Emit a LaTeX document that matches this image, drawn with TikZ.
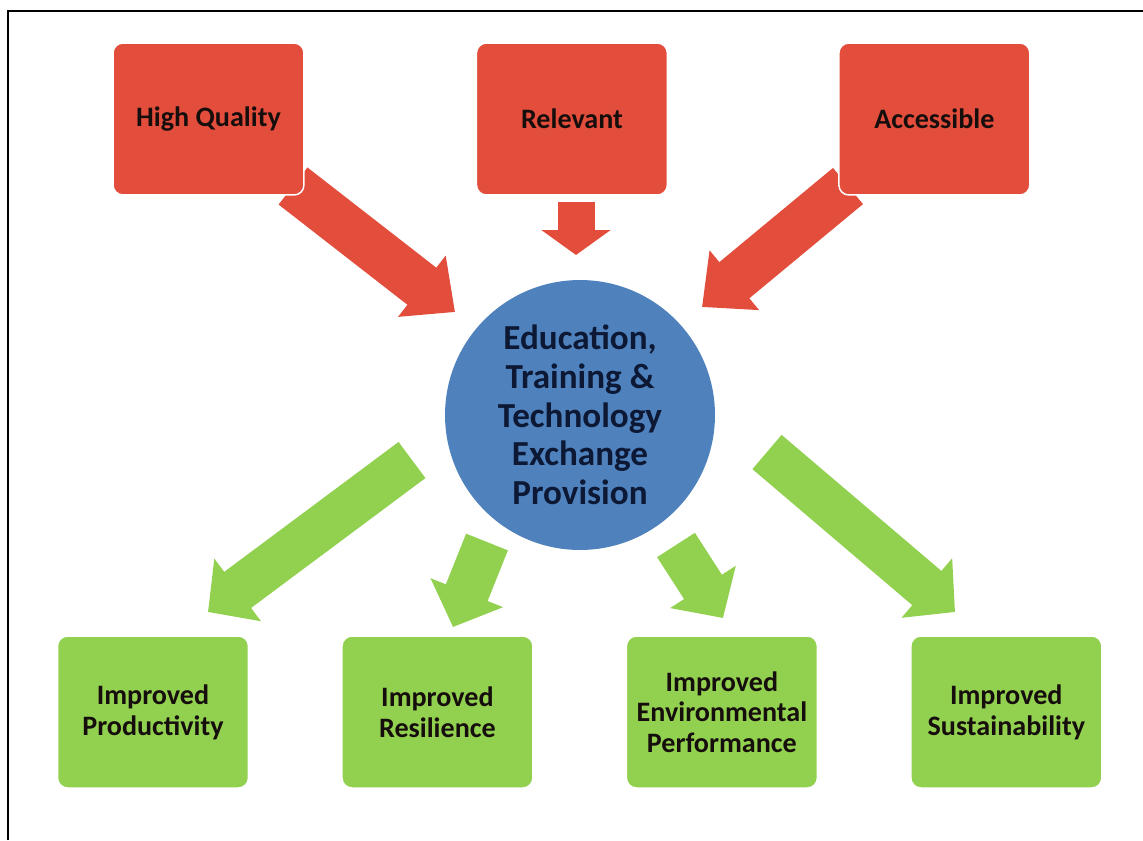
\documentclass[tikz,border=0pt]{standalone}
\usepackage{fontspec}
\setmainfont{Carlito}
\usetikzlibrary{arrows.meta}
\usetikzlibrary{positioning}
\definecolor{box_red}{RGB}{226,77,60}
\definecolor{box_green}{RGB}{146,208,80}
\definecolor{hub_blue}{RGB}{79,129,189}
\definecolor{hub_text}{RGB}{12,24,52}
\definecolor{box_text}{RGB}{22,14,12}
\tikzstyle{red_box} = [
    rectangle, 
    rounded corners=0.2cm, 
    font=\bfseries\fontsize{16}{17.5}\selectfont, 
    text=box_text, 
    draw=white, 
    line width=0.03cm, 
    fill=box_red, 
    align=center, 
    minimum width=3.82cm, 
    minimum height=3.04cm
]
\tikzstyle{green_box} = [
    red_box, 
    fill=box_green
]
\tikzstyle{hub_node} = [
    circle, 
    font=\bfseries\fontsize{20}{22}\selectfont, 
    text=hub_text, 
    fill=hub_blue, 
    align=center, 
    inner sep=0pt, % text fits well inside
    minimum size=5.4cm
]
\tikzstyle{red_arrow} = [
    draw=box_red, 
    line width=0.94cm, 
    -{Triangle[length=0.84cm, width=1.5cm]}
]
\tikzstyle{green_arrow} = [
    draw=box_green, 
    line width=0.9cm, 
    -{Triangle[length=0.74cm, width=1.52cm]}
]

\begin{document}
\begin{tikzpicture}[x=0.02cm, y=-0.02cm]
\useasboundingbox (0,0) rectangle (1143,840);
\draw[line width=0.04cm] (8,840) -- (8,11) -- (1143,11);

% arrow ends
\coordinate (hq_tail) at (293,186);
\coordinate (hq_tip) at (455,312);
\coordinate (rel_tail) at (576,202);
\coordinate (rel_tip) at (576,255);
\coordinate (acc_tail) at (848,186);
\coordinate (acc_tip) at (702,307);
\coordinate (prod_tail) at (412,460);
\coordinate (prod_tip) at (208,612);
\coordinate (res_tail) at (487,542);
\coordinate (res_tip) at (453,627);
\coordinate (env_tail) at (676,545);
\coordinate (env_tip) at (723,618);
\coordinate (sus_tail) at (767,452);
\coordinate (sus_tip) at (955,612);

\draw [red_arrow] (hq_tail) -- (hq_tip);
\draw [red_arrow, line width=0.74cm, -{Triangle[length=0.5cm, width=1.36cm]}] (rel_tail) -- (rel_tip);
\draw [red_arrow] (acc_tail) -- (acc_tip);
\draw [green_arrow] (prod_tail) -- (prod_tip);
\draw [green_arrow] (res_tail) -- (res_tip);
\draw [green_arrow] (env_tail) -- (env_tip);
\draw [green_arrow] (sus_tail) -- (sus_tip);

\node [red_box] (hq) at (208.5,119) {High Quality};
\node [red_box, right=3.42cm of hq] (relevant) {Relevant};
\node [red_box, right=3.4cm of relevant] (accessible) {Accessible};

\node [hub_node] (hub) at (580,415) {Education,\\Training \&\\Technology\\Exchange\\Provision};

\node [green_box] (productivity) at (153,712) {Improved\\Productivity};
\node [green_box, right=1.84cm of productivity] (resilience) {Improved\\Resilience};
\node [green_box, right=1.84cm of resilience] (environment) {Improved\\Environmental\\Performance};
\node [green_box, right=1.84cm of environment] (sustainability) {Improved\\Sustainability};
\end{tikzpicture}
\end{document}
